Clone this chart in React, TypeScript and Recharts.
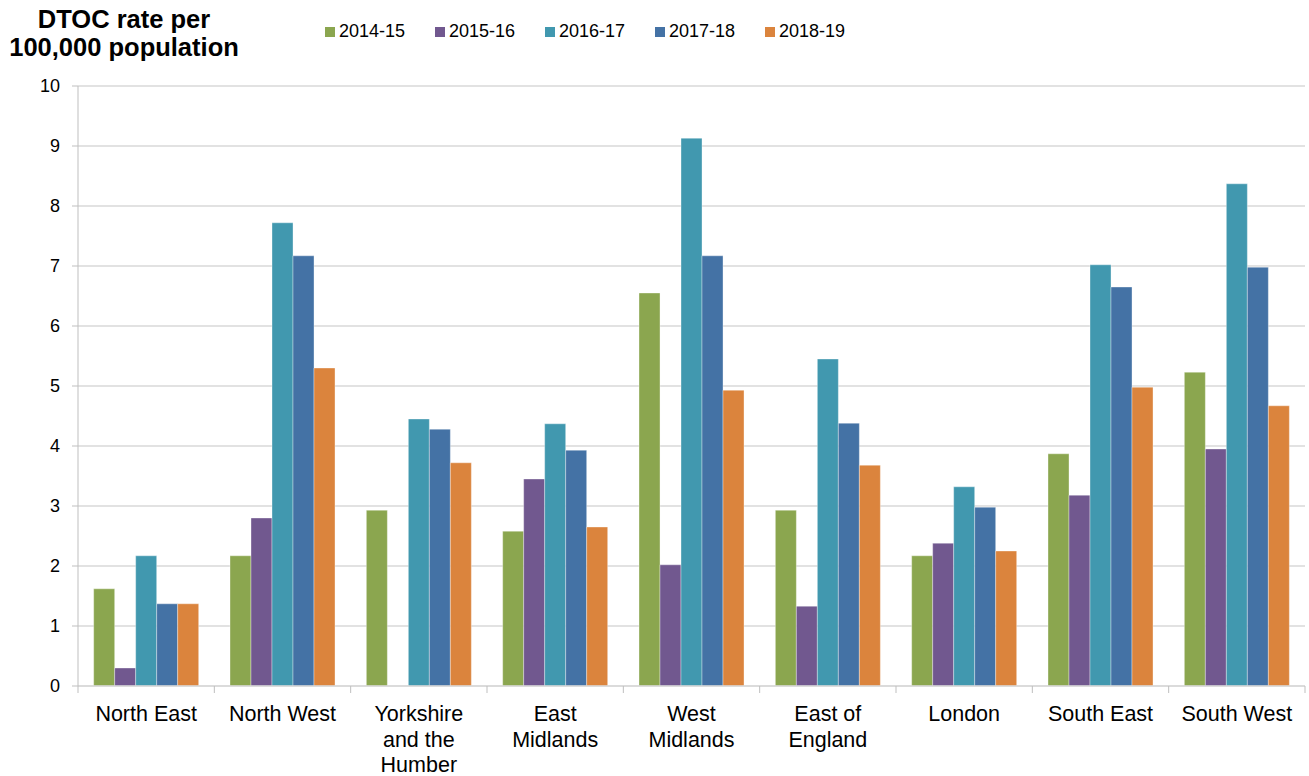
import React from "react";
import { BarChart, Bar, XAxis, YAxis, CartesianGrid } from "recharts";

const regions = [
  "North East",
  "North West",
  "Yorkshire and the Humber",
  "East Midlands",
  "West Midlands",
  "East of England",
  "London",
  "South East",
  "South West",
];
const regionLines = [
  ["North East"],
  ["North West"],
  ["Yorkshire", "and the", "Humber"],
  ["East", "Midlands"],
  ["West", "Midlands"],
  ["East of", "England"],
  ["London"],
  ["South East"],
  ["South West"],
];

const s2014 = [1.62, 2.17, 2.93, 2.58, 6.55, 2.93, 2.17, 3.87, 5.23];
const s2015 = [0.3, 2.8, 0, 3.45, 2.02, 1.33, 2.38, 3.18, 3.95];
const s2016 = [2.17, 7.72, 4.45, 4.37, 9.13, 5.45, 3.32, 7.02, 8.37];
const s2017 = [1.37, 7.17, 4.28, 3.93, 7.17, 4.38, 2.98, 6.65, 6.98];
const s2018 = [1.37, 5.3, 3.72, 2.65, 4.93, 3.68, 2.25, 4.98, 4.67];

const seriesNames = ["2014-15", "2015-16", "2016-17", "2017-18", "2018-19"];
const seriesKeys = ["y1415", "y1516", "y1617", "y1718", "y1819"];
const seriesValues = [s2014, s2015, s2016, s2017, s2018];
const seriesColors = ["#8BA64F", "#71588F", "#4198AF", "#4472A5", "#DB843D"];

const yTicks = [0, 1, 2, 3, 4, 5, 6, 7, 8, 9, 10];

const data = regions.map((r, i) => {
  const row: any = { region: r, idx: i };
  seriesKeys.forEach((k, j) => {
    row[k] = seriesValues[j][i];
  });
  return row;
});

const W = 1309;
const H = 776;
const M = { top: 86, right: 4, left: 0, bottom: 0 };
const Y_AXIS_W = 78;
const X_AXIS_H = 90;
const plotW = W - M.left - M.right - Y_AXIS_W;
const band = plotW / regions.length;
const FONT = "'Liberation Sans', Arial, sans-serif";

const XTick = (props: any) => {
  const { x, y, payload } = props;
  const i = regions.indexOf(payload.value);
  const lines = regionLines[i] || [payload.value];
  const left = x - band / 2;
  const right = x + band / 2;
  return (
    <g>
      <line x1={left} x2={left} y1={y} y2={y + 7} stroke="#bfbfbf" strokeWidth={1} />
      {i === regions.length - 1 && (
        <line x1={right} x2={right} y1={y} y2={y + 7} stroke="#bfbfbf" strokeWidth={1} />
      )}
      <text x={x} y={y + 35} textAnchor="middle" fill="#000" fontSize={21.5} fontFamily={FONT}>
        {lines.map((l, k) => (
          <tspan key={k} x={x} dy={k === 0 ? 0 : 25.5}>
            {l}
          </tspan>
        ))}
      </text>
    </g>
  );
};

export default function App() {
  return (
    <div style={{ position: "absolute", left: 0, top: 0, width: W, height: H, background: "#fff", fontFamily: FONT }}>
      <div
        style={{
          position: "absolute",
          left: 0,
          top: 5,
          width: 248,
          textAlign: "center",
          fontWeight: "bold",
          fontSize: 25.5,
          lineHeight: "28px",
          color: "#000",
          fontFamily: FONT,
          whiteSpace: "nowrap",
        }}
      >
        DTOC rate per
        <br />
        100,000 population
      </div>
      <div
        style={{
          position: "absolute",
          left: 325,
          top: 21,
          display: "flex",
          fontSize: 18,
          color: "#000",
          fontFamily: FONT,
        }}
      >
        {seriesNames.map((n, j) => (
          <div key={n} style={{ display: "flex", alignItems: "center", width: 110 }}>
            <span style={{ display: "inline-block", width: 10, height: 10, background: seriesColors[j], marginRight: 4 }} />
            <span>{n}</span>
          </div>
        ))}
      </div>
      <BarChart
        width={W}
        height={H}
        data={data}
        margin={M}
        barCategoryGap="11.5%"
        barGap={0}
      >
        <CartesianGrid horizontal vertical={false} stroke="#d9d9d9" strokeWidth={1.5} />
        <XAxis
          dataKey="region"
          height={X_AXIS_H}
          interval={0}
          tickLine={false}
          tickSize={0}
          tickMargin={0}
          axisLine={{ stroke: "#d9d9d9", strokeWidth: 1.5 }}
          tick={<XTick />}
        />
        <YAxis
          width={Y_AXIS_W}
          domain={[0, 10]}
          ticks={yTicks}
          interval={0}
          tickSize={6}
          tickMargin={12}
          tickLine={{ stroke: "#bfbfbf" }}
          axisLine={{ stroke: "#bfbfbf" }}
          tick={{ fill: "#000", fontSize: 18, fontFamily: FONT }}
        />
        {seriesKeys.map((k, j) => (
          <Bar
            key={k}
            dataKey={k}
            name={seriesNames[j]}
            fill={seriesColors[j]}
            stroke="rgba(255,255,255,0.35)"
            strokeWidth={1}
            isAnimationActive={false}
          />
        ))}
      </BarChart>
    </div>
  );
}
